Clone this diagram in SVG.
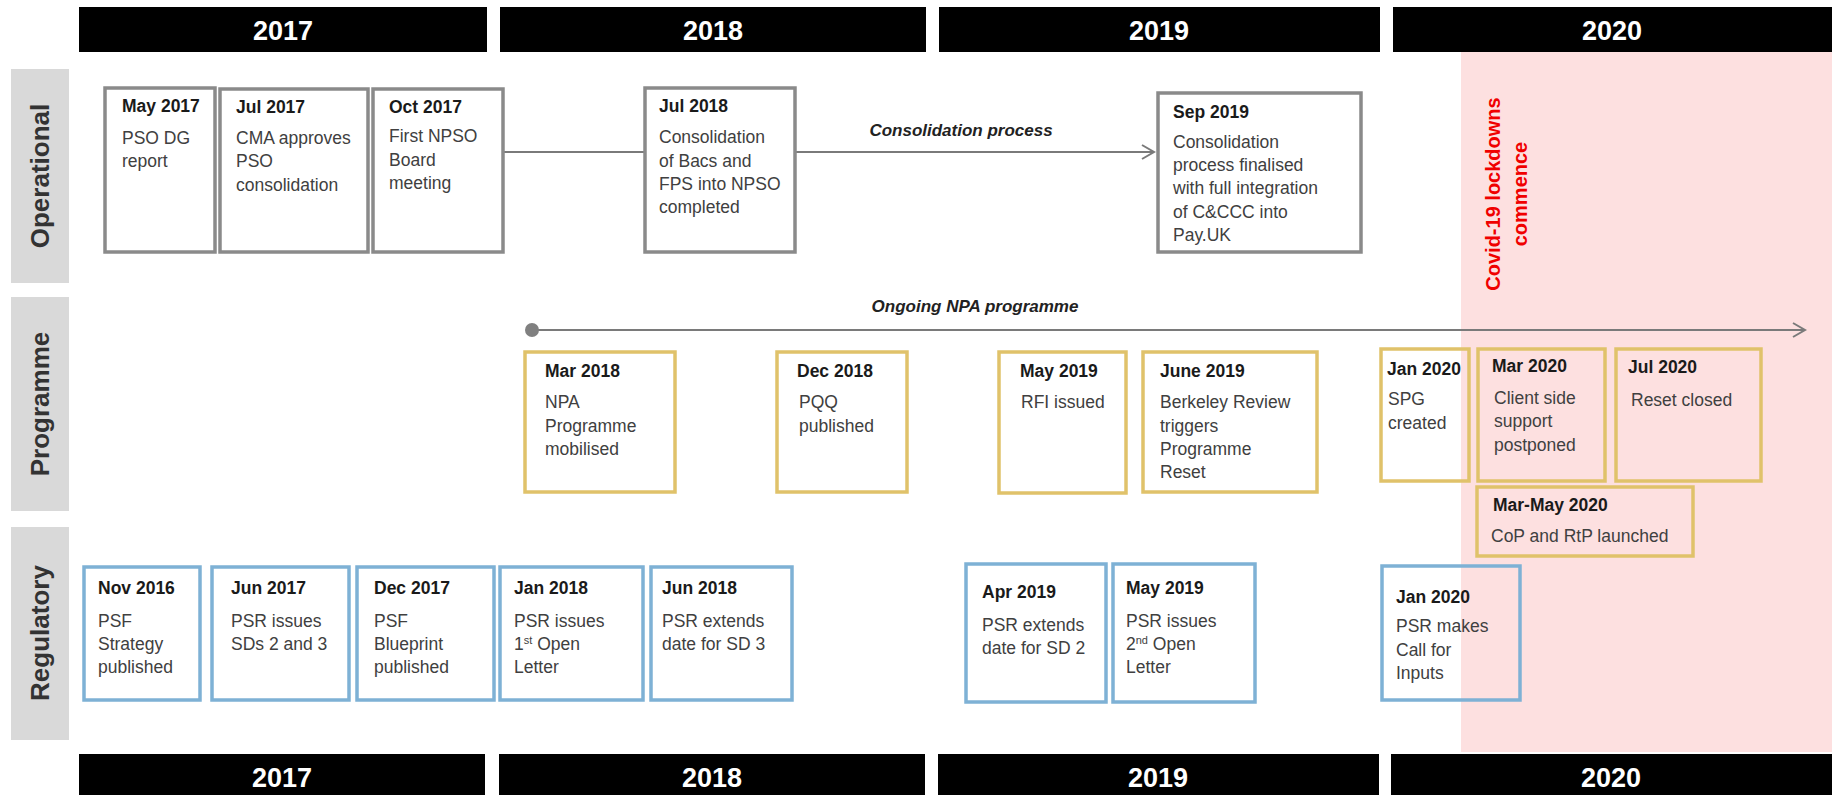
<svg xmlns="http://www.w3.org/2000/svg" width="1832" height="795" viewBox="0 0 1832 795">
<defs>
<style>
.bar{fill:#000}
.yr{fill:#fff;font-family:"Liberation Sans",Arial,sans-serif;font-weight:bold;font-size:27px;text-anchor:middle}
.lane{fill:#d9d9d9}
.lt{fill:#333;font-family:"Liberation Sans",Arial,sans-serif;font-weight:bold;font-size:26px;text-anchor:middle}
.op{fill:none;stroke:#8a8a8a;stroke-width:3.5}
.pg{fill:none;stroke:#e0c26a;stroke-width:3.5}
.rg{fill:none;stroke:#7eb1d5;stroke-width:3.5}
.d{fill:#1a1a1a;font-family:"Liberation Sans",Arial,sans-serif;font-weight:bold;font-size:17.5px}
.b{fill:#404040;font-family:"Liberation Sans",Arial,sans-serif;font-size:17.5px}
.lbl{fill:#222;font-family:"Liberation Sans",Arial,sans-serif;font-weight:bold;font-style:italic;font-size:17px;text-anchor:middle}
.cv{fill:#f00000;font-family:"Liberation Sans",Arial,sans-serif;font-weight:bold;font-size:20px;text-anchor:middle}
.ln{fill:none;stroke:#7a7a7a;stroke-width:2}
</style>
<marker id="arr" markerUnits="userSpaceOnUse" markerWidth="16" markerHeight="18" refX="13" refY="8" orient="auto">
<path d="M1,1 L13,8 L1,15" fill="none" stroke="#7a7a7a" stroke-width="2"/>
</marker>
</defs>
<rect width="1832" height="795" fill="#fff"/>
<rect id="covid-zone" x="1461" y="51" width="371" height="701" fill="#fde0e0"/>

<g id="years-top">
<rect class="bar" x="79" y="7" width="408" height="45"/><text class="yr" x="283" y="40">2017</text>
<rect class="bar" x="500" y="7" width="426" height="45"/><text class="yr" x="713" y="40">2018</text>
<rect class="bar" x="939" y="7" width="441" height="45"/><text class="yr" x="1159" y="40">2019</text>
<rect class="bar" x="1393" y="7" width="439" height="45"/><text class="yr" x="1612" y="40">2020</text>
</g>
<g id="years-bottom">
<rect class="bar" x="79" y="754" width="406" height="41"/><text class="yr" x="282" y="787">2017</text>
<rect class="bar" x="499" y="754" width="426" height="41"/><text class="yr" x="712" y="787">2018</text>
<rect class="bar" x="938" y="754" width="441" height="41"/><text class="yr" x="1158" y="787">2019</text>
<rect class="bar" x="1391" y="754" width="441" height="41"/><text class="yr" x="1611" y="787">2020</text>
</g>

<g id="lane-operational"><rect class="lane" x="11" y="69" width="58" height="214"/><text class="lt" transform="translate(49,176) rotate(-90)">Operational</text></g>
<g id="lane-programme"><rect class="lane" x="11" y="297" width="58" height="214"/><text class="lt" transform="translate(49,404) rotate(-90)">Programme</text></g>
<g id="lane-regulatory"><rect class="lane" x="11" y="527" width="58" height="213"/><text class="lt" transform="translate(49,633) rotate(-90)">Regulatory</text></g>

<g id="covid-label">
<text class="cv" transform="translate(1500,194) rotate(-90)">Covid-19 lockdowns</text>
<text class="cv" transform="translate(1527,194) rotate(-90)">commence</text>
</g>

<g id="connectors">
<line class="ln" x1="503" y1="152" x2="645" y2="152"/>
<line class="ln" x1="795" y1="152" x2="1154" y2="152" marker-end="url(#arr)"/>
<text class="lbl" x="961" y="136">Consolidation process</text>
<line class="ln" x1="532" y1="330" x2="1805" y2="330" marker-end="url(#arr)"/>
<circle cx="532" cy="330" r="7" fill="#808080"/>
<text class="lbl" x="975" y="312">Ongoing NPA programme</text>
</g>

<g id="op-may2017"><rect class="op" x="105" y="88" width="110" height="164"/><text class="d" x="122" y="112">May 2017</text><text class="b" x="122" y="144">PSO DG</text><text class="b" x="122" y="167">report</text></g>
<g id="op-jul2017"><rect class="op" x="220" y="89" width="148" height="163"/><text class="d" x="236" y="113">Jul 2017</text><text class="b" x="236" y="144">CMA approves</text><text class="b" x="236" y="167">PSO</text><text class="b" x="236" y="191">consolidation</text></g>
<g id="op-oct2017"><rect class="op" x="373" y="89" width="130" height="163"/><text class="d" x="389" y="113">Oct 2017</text><text class="b" x="389" y="142">First NPSO</text><text class="b" x="389" y="166">Board</text><text class="b" x="389" y="189">meeting</text></g>
<g id="op-jul2018"><rect class="op" x="645" y="88" width="150" height="164"/><text class="d" x="659" y="112">Jul 2018</text><text class="b" x="659" y="143">Consolidation</text><text class="b" x="659" y="167">of Bacs and</text><text class="b" x="659" y="190">FPS into NPSO</text><text class="b" x="659" y="213">completed</text></g>
<g id="op-sep2019"><rect class="op" x="1158" y="93" width="203" height="159"/><text class="d" x="1173" y="118">Sep 2019</text><text class="b" x="1173" y="148">Consolidation</text><text class="b" x="1173" y="171">process finalised</text><text class="b" x="1173" y="194">with full integration</text><text class="b" x="1173" y="218">of C&amp;CCC into</text><text class="b" x="1173" y="241">Pay.UK</text></g>

<g id="pg-mar2018"><rect class="pg" x="525" y="352" width="150" height="140"/><text class="d" x="545" y="377">Mar 2018</text><text class="b" x="545" y="408">NPA</text><text class="b" x="545" y="432">Programme</text><text class="b" x="545" y="455">mobilised</text></g>
<g id="pg-dec2018"><rect class="pg" x="777" y="352" width="130" height="140"/><text class="d" x="797" y="377">Dec 2018</text><text class="b" x="799" y="408">PQQ</text><text class="b" x="799" y="432">published</text></g>
<g id="pg-may2019"><rect class="pg" x="999" y="352" width="127" height="141"/><text class="d" x="1020" y="377">May 2019</text><text class="b" x="1021" y="408">RFI issued</text></g>
<g id="pg-jun2019"><rect class="pg" x="1143" y="352" width="174" height="140"/><text class="d" x="1160" y="377">June 2019</text><text class="b" x="1160" y="408">Berkeley Review</text><text class="b" x="1160" y="432">triggers</text><text class="b" x="1160" y="455">Programme</text><text class="b" x="1160" y="478">Reset</text></g>
<g id="pg-jan2020"><rect class="pg" x="1381" y="349" width="88" height="132"/><text class="d" x="1387" y="375">Jan 2020</text><text class="b" x="1388" y="405">SPG</text><text class="b" x="1388" y="429">created</text></g>
<g id="pg-mar2020"><rect class="pg" x="1478" y="349" width="127" height="132"/><text class="d" x="1492" y="372">Mar 2020</text><text class="b" x="1494" y="404">Client side</text><text class="b" x="1494" y="427">support</text><text class="b" x="1494" y="451">postponed</text></g>
<g id="pg-jul2020"><rect class="pg" x="1616" y="349" width="145" height="132"/><text class="d" x="1628" y="373">Jul 2020</text><text class="b" x="1631" y="406">Reset closed</text></g>
<g id="pg-marmay2020"><rect class="pg" x="1477" y="487" width="216" height="69"/><text class="d" x="1493" y="511">Mar-May 2020</text><text class="b" x="1491" y="542">CoP and RtP launched</text></g>

<g id="rg-nov2016"><rect class="rg" x="84" y="567" width="116" height="133"/><text class="d" x="98" y="594">Nov 2016</text><text class="b" x="98" y="627">PSF</text><text class="b" x="98" y="650">Strategy</text><text class="b" x="98" y="673">published</text></g>
<g id="rg-jun2017"><rect class="rg" x="212" y="567" width="137" height="133"/><text class="d" x="231" y="594">Jun 2017</text><text class="b" x="231" y="627">PSR issues</text><text class="b" x="231" y="650">SDs 2 and 3</text></g>
<g id="rg-dec2017"><rect class="rg" x="357" y="567" width="137" height="133"/><text class="d" x="374" y="594">Dec 2017</text><text class="b" x="374" y="627">PSF</text><text class="b" x="374" y="650">Blueprint</text><text class="b" x="374" y="673">published</text></g>
<g id="rg-jan2018"><rect class="rg" x="500" y="567" width="143" height="133"/><text class="d" x="514" y="594">Jan 2018</text><text class="b" x="514" y="627">PSR issues</text><text class="b" x="514" y="650">1<tspan font-size="11" dy="-6">st</tspan><tspan dy="6"> Open</tspan></text><text class="b" x="514" y="673">Letter</text></g>
<g id="rg-jun2018"><rect class="rg" x="651" y="567" width="141" height="133"/><text class="d" x="662" y="594">Jun 2018</text><text class="b" x="662" y="627">PSR extends</text><text class="b" x="662" y="650">date for SD 3</text></g>
<g id="rg-apr2019"><rect class="rg" x="966" y="564" width="140" height="138"/><text class="d" x="982" y="598">Apr 2019</text><text class="b" x="982" y="631">PSR extends</text><text class="b" x="982" y="654">date for SD 2</text></g>
<g id="rg-may2019"><rect class="rg" x="1113" y="564" width="142" height="138"/><text class="d" x="1126" y="594">May 2019</text><text class="b" x="1126" y="627">PSR issues</text><text class="b" x="1126" y="650">2<tspan font-size="11" dy="-6">nd</tspan><tspan dy="6"> Open</tspan></text><text class="b" x="1126" y="673">Letter</text></g>
<g id="rg-jan2020"><rect class="rg" x="1382" y="566" width="138" height="134"/><text class="d" x="1396" y="603">Jan 2020</text><text class="b" x="1396" y="632">PSR makes</text><text class="b" x="1396" y="656">Call for</text><text class="b" x="1396" y="679">Inputs</text></g>
</svg>
